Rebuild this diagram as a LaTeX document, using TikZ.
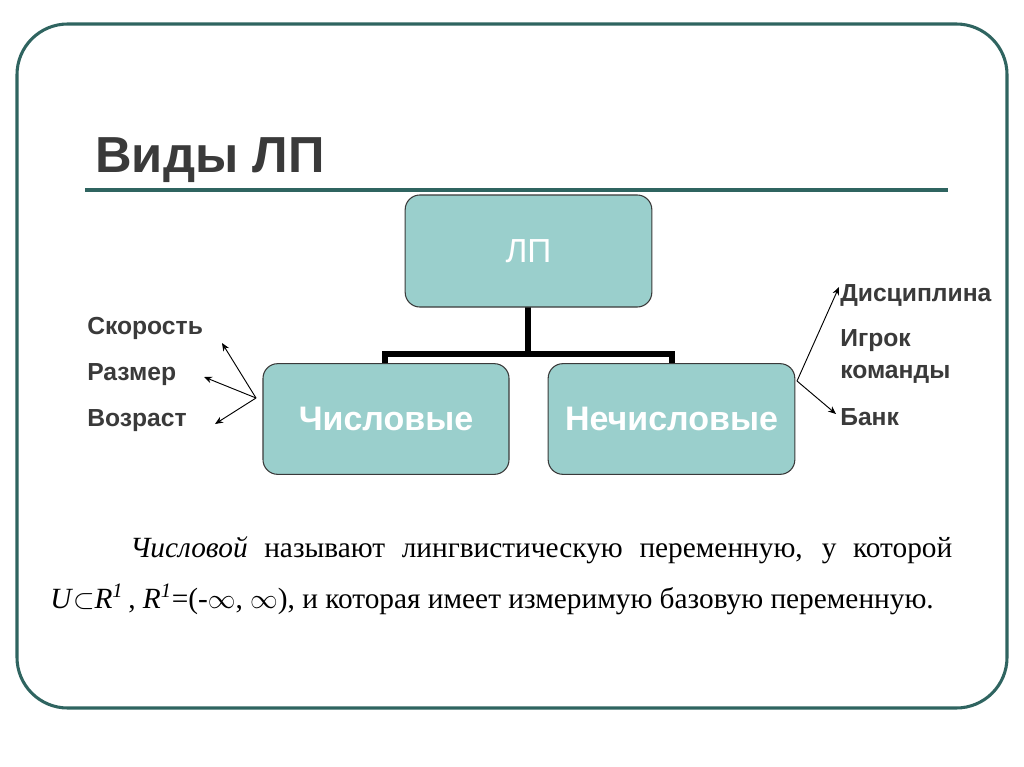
\documentclass[tikz,border=0pt]{standalone}
\usepackage{fontspec}
\setmainfont{Liberation Sans}
\newfontfamily\serifru{Liberation Serif}
\usetikzlibrary{arrows.meta}
\definecolor{teal1}{HTML}{2F6460}
\definecolor{boxfill}{HTML}{9ACFCC}
\definecolor{txt}{HTML}{3A3A3A}
\begin{document}
\begin{tikzpicture}[x=0.75pt,y=-0.75pt,
  box/.style={draw=txt,line width=0.8pt,fill=boxfill,rounded corners=11pt,text=white,font=\bfseries\fontsize{25.5}{30}\selectfont},
  lab/.style={anchor=west,text=txt,font=\bfseries\fontsize{18.5}{22}\selectfont,inner sep=0pt,align=left},
  arr/.style={-{Stealth[length=6pt,width=5pt]},line width=0.7pt,black},
  conn/.style={line width=4pt,black}]
\useasboundingbox (0,0) rectangle (1024,767);
\fill[white] (0,0) rectangle (1024,767);
\draw[teal1,line width=2.3pt,rounded corners=38pt] (17,24) rectangle (1007,708);
\node[anchor=base west,text=txt,font=\bfseries\fontsize{38}{44}\selectfont,inner sep=0pt] (title) at (95,172) {Виды ЛП};
\draw[teal1,line width=3pt] (85,190) -- (948,190);
\coordinate (j) at (528,354);
\draw[conn] (528,307) -- (j);
\draw[conn] (385,364) -- (385,354) -- (672,354) -- (672,364);
\node[box,minimum width=185pt,minimum height=84pt,font=\fontsize{25}{30}\selectfont] (lp) at (528.5,251) {ЛП};
\node[box,minimum width=184.5pt,minimum height=83pt] (num) at (386,419) {Числовые};
\node[box,minimum width=185pt,minimum height=83pt] (non) at (671.5,419) {Нечисловые};
\node[lab] (s) at (87,328) {Скорость};
\node[lab] (r) at (87,375) {Размер};
\node[lab] (v) at (87,421) {Возраст};
\node[lab] (d) at (840,295) {Дисциплина};
\node[lab] (i) at (840,356) {Игрок\\[2pt]команды};
\node[lab] (b) at (840,417) {Банк};
\coordinate (lo) at (256,398);
\coordinate (ro) at (797,381);
\draw[arr] (lo) -- (222,343);
\draw[arr] (lo) -- (204,377);
\draw[arr] (lo) -- (215,424);
\draw[arr] (ro) -- (839,287);
\draw[arr] (ro) -- (836,414);
\node[anchor=base west,inner sep=0pt,font=\serifru\fontsize{22}{26}\selectfont,text=black] (t1) at (130,557)
  {\makebox[616.5pt][s]{\textit{Числовой} называют лингвистическую переменную, у которой}};
\node[anchor=base west,inner sep=0pt,font=\serifru\fontsize{22}{26}\selectfont,text=black] (t2) at (50,608)
  {\textit{U}$\subset$\textit{R}\textsuperscript{\textit{1}}\,, \textit{R}\textsuperscript{\textit{1}}=(-$\infty$, $\infty$), и которая имеет измеримую базовую переменную.};
\end{tikzpicture}
\end{document}
